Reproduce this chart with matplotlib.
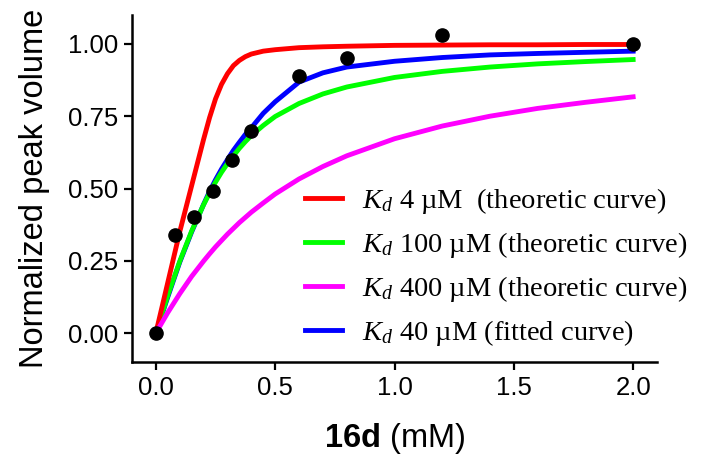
import matplotlib.pyplot as plt
from matplotlib.ticker import FormatStrFormatter

plt.rcParams['font.family'] = ['Liberation Sans', 'DejaVu Sans']
plt.rcParams['mathtext.fontset'] = 'custom'
plt.rcParams['mathtext.it'] = 'Liberation Serif:italic'
plt.rcParams['mathtext.rm'] = 'Liberation Serif'
plt.rcParams['mathtext.bf'] = 'Liberation Sans:bold'

# measured points
conc = [0.0, 0.08, 0.16, 0.24, 0.32, 0.40, 0.60, 0.80, 1.20, 2.00]
peak = [0.0, 0.34, 0.40, 0.49, 0.60, 0.70, 0.89, 0.95, 1.03, 1.00]

# curves
curve_x = [0.0, 0.05, 0.1, 0.15, 0.2, 0.225, 0.25, 0.275, 0.3, 0.325, 0.35,
           0.375, 0.4, 0.45, 0.5, 0.6, 0.7, 0.8, 1.0, 1.2, 1.4, 1.6, 1.8, 2.0]
kd4 = [0.0, 0.175, 0.35, 0.51, 0.67, 0.745, 0.81, 0.86, 0.897, 0.925, 0.943,
       0.956, 0.965, 0.975, 0.98, 0.987, 0.99, 0.992, 0.995, 0.996, 0.997,
       0.997, 0.998, 0.998]
kd100 = [0.0, 0.130, 0.248, 0.353, 0.444, 0.484, 0.522, 0.556, 0.586, 0.613,
         0.639, 0.662, 0.683, 0.718, 0.749, 0.794, 0.827, 0.851, 0.884, 0.905,
         0.920, 0.931, 0.939, 0.946]
kd400 = [0.0, 0.071, 0.136, 0.196, 0.249, 0.274, 0.298, 0.320, 0.342, 0.362,
         0.382, 0.400, 0.418, 0.450, 0.481, 0.533, 0.576, 0.613, 0.672, 0.716,
         0.750, 0.777, 0.798, 0.817]
kd40_fit = [0.0, 0.125, 0.245, 0.35, 0.445, 0.49, 0.53, 0.567, 0.60, 0.632,
            0.66, 0.687, 0.71, 0.76, 0.80, 0.868, 0.90, 0.92, 0.94, 0.953,
            0.962, 0.967, 0.971, 0.975]

labels = [r'$K_d$ 4 µM  (theoretic curve)',
          r'$K_d$ 100 µM (theoretic curve)',
          r'$K_d$ 400 µM (theoretic curve)',
          r'$K_d$ 40 µM (fitted curve)']

fig = plt.figure(figsize=(7.14, 4.63), dpi=100)
ax = fig.add_axes([132/714, 1 - 362/463, 525/714, 347/463])

lw = 3.5
hb, = ax.plot(curve_x, kd40_fit, color='#0000ff', lw=lw, zorder=2)
hg, = ax.plot(curve_x, kd100, color='#00ff00', lw=lw, zorder=3)
hr, = ax.plot(curve_x, kd4, color='#ff0000', lw=lw, zorder=4)
hm, = ax.plot(curve_x, kd400, color='#ff00ff', lw=lw, zorder=5)
ax.plot(conc, peak, 'o', color='black', ms=9.5, zorder=6)

ax.set_xlim(-0.1, 2.1)
ax.set_ylim(-0.1, 1.1)
ax.set_xticks([0.0, 0.5, 1.0, 1.5, 2.0])
ax.set_yticks([0.0, 0.25, 0.5, 0.75, 1.0])
ax.xaxis.set_major_formatter(FormatStrFormatter('%.1f'))
ax.yaxis.set_major_formatter(FormatStrFormatter('%.2f'))

for s in ['top', 'right']:
    ax.spines[s].set_visible(False)
for s in ['left', 'bottom']:
    ax.spines[s].set_linewidth(1.8)
ax.tick_params(direction='out', length=6, width=1.6, labelsize=18.5, pad=4)

ax.set_ylabel('Normalized peak volume', fontsize=23.5, labelpad=13)
ax.set_xlabel(r'$\mathbf{16d}$ (mM)', fontsize=23.5, labelpad=15)

leg = ax.legend([hr, hg, hm, hb], labels, loc='upper left',
                bbox_to_anchor=(0.33, 0.508), frameon=False,
                prop={'family': 'Liberation Serif', 'size': 20.5},
                handlelength=1.3, handletextpad=0.7, labelspacing=0.5,
                borderpad=0, borderaxespad=0)

fig.savefig('out.png', dpi=100)
